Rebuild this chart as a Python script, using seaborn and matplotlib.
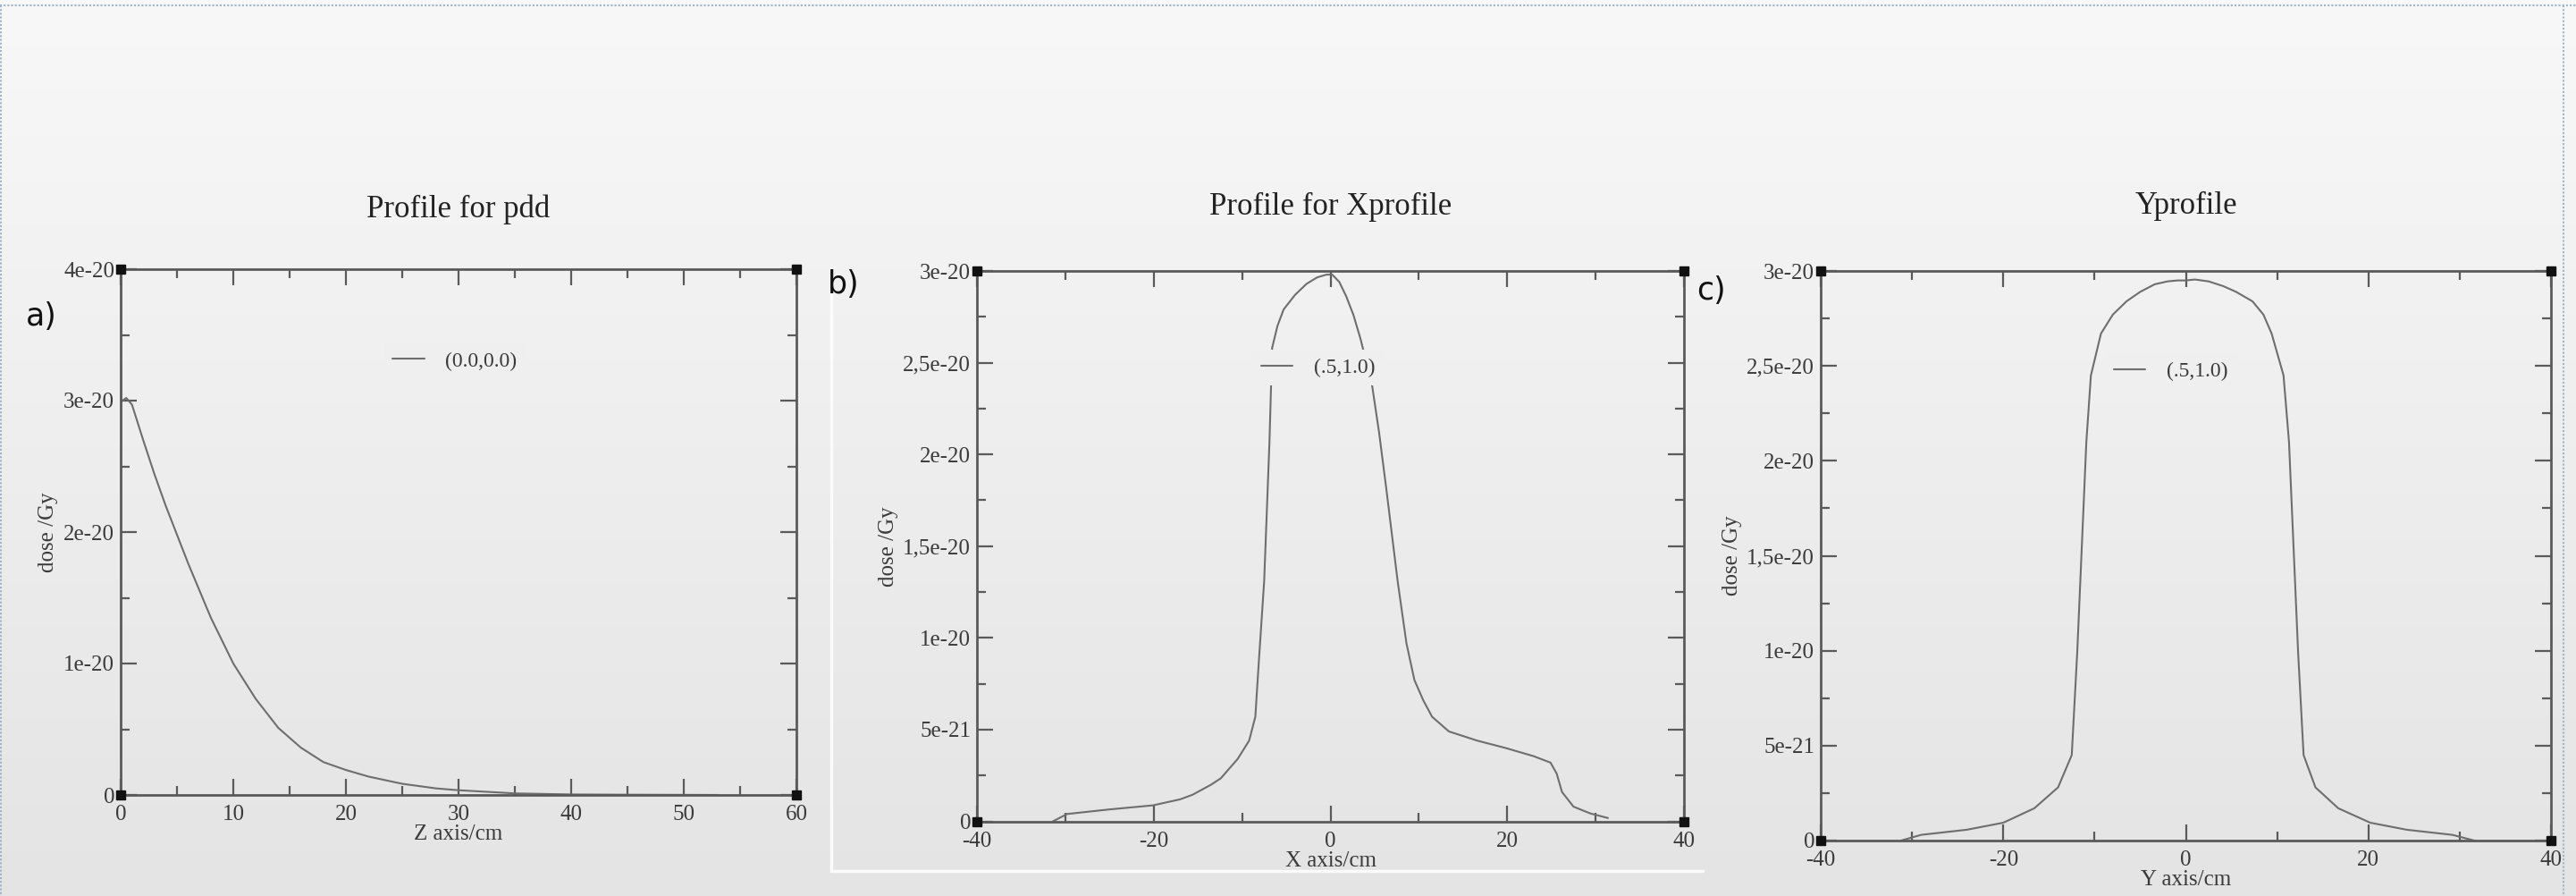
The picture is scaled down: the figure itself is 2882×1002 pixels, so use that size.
import numpy as np
import pandas as pd
import matplotlib
matplotlib.use("Agg")
import matplotlib.pyplot as plt
import seaborn as sns
from matplotlib.ticker import FixedLocator, MultipleLocator
from matplotlib.lines import Line2D
from matplotlib.colors import LinearSegmentedColormap

# ---------------- data (dose in units of 1e-20 Gy) ----------------
pdd_z = [0, 0.5, 1, 2, 3, 4, 5, 6, 8, 10, 12, 14, 16, 18, 20, 22, 25, 28, 30, 35, 40, 45, 50, 53]
pdd_dose = [2.99, 3.02, 2.97, 2.70, 2.44, 2.20, 1.98, 1.76, 1.35, 1.00, 0.73, 0.51, 0.36, 0.25,
            0.19, 0.14, 0.085, 0.05, 0.036, 0.012, 0.004, 0.002, 0.001, 0.0]

xprof_x = [-31.4, -29.8, -25, -20.1, -17, -15.6, -13.5, -12.4, -10.5, -9.2, -8.5, -8.2, -7.5, -6.9,
           -6.6, -6.0, -5.3, -4, -2.7, -1.5, -0.45, 0.2, 1.0, 1.8, 2.6, 3.4, 4.7, 5.5, 6.3, 7.6,
           8.6, 9.5, 10.5, 11.5, 13.4, 16.6, 19.8, 23, 24.9, 25.6, 26.2, 27.5, 29.4, 31.4]
xprof_dose = [0, 0.04, 0.065, 0.087, 0.12, 0.145, 0.20, 0.235, 0.34, 0.44, 0.57, 0.8, 1.31, 2.07,
              2.58, 2.70, 2.79, 2.87, 2.93, 2.965, 2.98, 2.98, 2.94, 2.86, 2.76, 2.63, 2.38, 2.12,
              1.82, 1.31, 0.97, 0.77, 0.66, 0.57, 0.49, 0.44, 0.40, 0.355, 0.32, 0.26, 0.16, 0.08,
              0.043, 0.018]

yprof_y = [-31.2, -29, -24, -20, -16.6, -14, -12.5, -11.9, -10.9, -10.4, -9.3, -8, -6.5, -5, -3.4,
           -2, -0.9, 0, 1.0, 2.5, 4.1, 5.5, 7.3, 8.5, 9.4, 10.7, 11.3, 12.3, 12.9, 14.2, 16.7, 20.2,
           24.2, 29.2, 31.6]
yprof_dose = [0, 0.03, 0.057, 0.094, 0.17, 0.28, 0.45, 0.99, 2.10, 2.45, 2.67, 2.77, 2.84, 2.89,
              2.93, 2.945, 2.95, 2.95, 2.955, 2.945, 2.92, 2.89, 2.84, 2.77, 2.67, 2.45, 2.10, 0.99,
              0.45, 0.28, 0.17, 0.094, 0.057, 0.03, 0]

titles = ["Profile for pdd", "Profile for Xprofile", "Yprofile"]
xlabels = ["Z axis/cm", "X axis/cm", "Y axis/cm"]
ylabel = "dose /Gy"
legend_labels = ["(0.0,0.0)", "(.5,1.0)", "(.5,1.0)"]
panel_tags = ["a)", "b)", "c)"]

a_xticks = [0, 10, 20, 30, 40, 50, 60]
a_xticklabels = ["0", "10", "20", "30", "40", "50", "60"]
a_yticks = [0, 1, 2, 3, 4]
a_yticklabels = ["0", "1e-20", "2e-20", "3e-20", "4e-20"]
bc_xticks = [-40, -20, 0, 20, 40]
bc_xticklabels = ["-40", "-20", "0", "20", "40"]
bc_yticks = [0, 0.5, 1.0, 1.5, 2.0, 2.5, 3.0]
bc_yticklabels = ["0", "5e-21", "1e-20", "1,5e-20", "2e-20", "2,5e-20", "3e-20"]

# ---------------- style ----------------
sns.set_theme(style="ticks")
plt.rcParams["font.family"] = ["Liberation Serif", "DejaVu Serif"]

W, H = 2882, 1002
fig = plt.figure(figsize=(W / 100, H / 100), dpi=100)

# background gradient
bg = fig.add_axes([0, 0, 1, 1], zorder=-10)
grad = np.linspace(0, 1, 256).reshape(-1, 1)
cmap = LinearSegmentedColormap.from_list("bg", ["#f8f8f8", "#eeeeee", "#e4e4e4"])
bg.imshow(grad, aspect="auto", cmap=cmap, extent=[0, 1, 0, 1], origin="upper")
bg.set_xlim(0, 1); bg.set_ylim(0, 1)
bg.axis("off")

# screenshot frame artifacts
def px(x, y):
    return x / W, 1 - y / H
for (x0, y0, x1, y1) in [(0, 6, W, 6), (1, 6, 1, H), (2868, 6, 2868, H)]:
    (a0, b0), (a1, b1) = px(x0, y0), px(x1, y1)
    fig.add_artist(Line2D([a0, a1], [b0, b1], color="#9fb3c9", lw=1.5, ls=(0, (1, 1))))
for (x0, y0, x1, y1) in [(930, 300, 930, 974), (930, 974, 1905, 974)]:
    (a0, b0), (a1, b1) = px(x0, y0), px(x1, y1)
    fig.add_artist(Line2D([a0, a1], [b0, b1], color="#fbfbfb", lw=2.5))

positions = [
    [135 / W, 1 - 889 / H, 756 / W, 588 / H],
    [1093 / W, 1 - 918.5 / H, 791 / W, 615.5 / H],
    [2037 / W, 1 - 940 / H, 817 / W, 637 / H],
]
datasets = [
    (pdd_z, pdd_dose, (0, 60), (0, 4), a_xticks, a_xticklabels, a_yticks, a_yticklabels, 5, 0.5),
    (xprof_x, xprof_dose, (-40, 40), (0, 3), bc_xticks, bc_xticklabels, bc_yticks, bc_yticklabels, 10, 0.25),
    (yprof_y, yprof_dose, (-40, 40), (0, 3), bc_xticks, bc_xticklabels, bc_yticks, bc_yticklabels, 10, 0.25),
]
title_pads = [42, 45, 46]
tag_pos = [(46, 354), (944, 318), (1914, 325)]
leg_y = [0.825, 0.8245, 0.824]

axis_col = "#5a5a5a"
text_col = "#3a3a3a"
line_col = "#6e6e6e"
leg_bg = "#efefef"

for i, (pos, ds) in enumerate(zip(positions, datasets)):
    xs, ys, xlim, ylim, xt, xtl, yt, ytl, xminor, yminor = ds
    ax = fig.add_axes(pos)
    ax.set_facecolor("none")
    df = pd.DataFrame({"x": xs, "dose": ys})
    sns.lineplot(data=df, x="x", y="dose", ax=ax, color=line_col, lw=1.5,
                 label=legend_labels[i], sort=False, estimator=None)
    ax.set_xlim(*xlim)
    ax.set_ylim(*ylim)
    ax.xaxis.set_major_locator(FixedLocator(xt))
    ax.set_xticklabels(xtl)
    ax.yaxis.set_major_locator(FixedLocator(yt))
    ax.set_yticklabels(ytl)
    ax.xaxis.set_minor_locator(MultipleLocator(xminor))
    ax.yaxis.set_minor_locator(MultipleLocator(yminor))
    ax.tick_params(which="both", direction="in", top=True, right=True,
                   color=axis_col, width=1.6)
    ax.tick_params(which="major", length=13, labelsize=18, labelcolor=text_col)
    ax.tick_params(axis="y", which="major", pad=5)
    ax.tick_params(axis="x", which="major", pad=8)
    ax.tick_params(which="minor", length=7)
    for sp in ax.spines.values():
        sp.set_visible(True)
        sp.set_color(axis_col)
        sp.set_linewidth(2.0)
    ax.set_xlabel(xlabels[i], fontsize=18, color=text_col, labelpad=0)
    ax.set_ylabel(ylabel, fontsize=18, color=text_col, labelpad=4)
    ax.set_title(titles[i], fontsize=25, color="#222222", pad=title_pads[i])
    # corner markers
    ax.plot([0, 1, 0, 1], [0, 0, 1, 1], ls="none", marker="s", ms=6.5, color="#111111",
            transform=ax.transAxes, clip_on=False, zorder=5)
    leg = ax.legend(loc="center left", bbox_to_anchor=(0.39, leg_y[i]), frameon=True,
                    fontsize=17, handlelength=1.5, handletextpad=1.0, borderpad=0.4,
                    borderaxespad=0, fancybox=False)
    leg.get_frame().set_facecolor(leg_bg)
    leg.get_frame().set_edgecolor("none")
    leg.get_frame().set_alpha(1)
    for t in leg.get_texts():
        t.set_color(text_col)
    tx, ty = px(*tag_pos[i])
    fig.text(tx, ty, panel_tags[i], fontsize=25, family=["DejaVu Sans"], color="#111111",
             ha="center", va="center")

fig.savefig("out.png", dpi=100)
